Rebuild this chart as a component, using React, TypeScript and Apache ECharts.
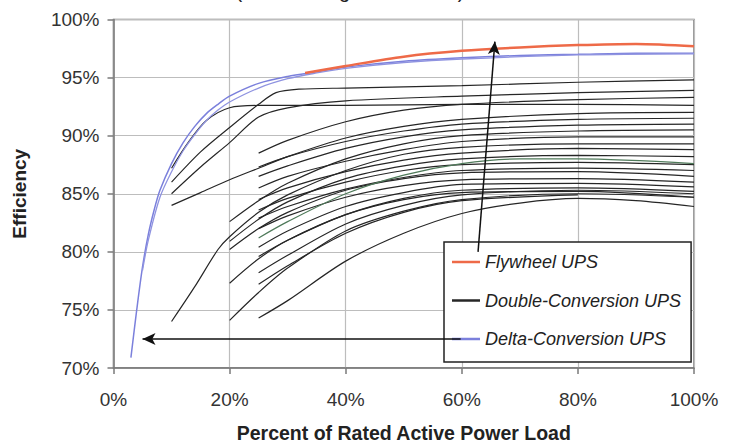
import React, { useEffect, useRef } from "react";
import * as echarts from "echarts";

// ---- Data (x = % of rated load, y = efficiency %) ----
const xTicks = [0, 20, 40, 60, 80, 100];
const yTicks = [70, 75, 80, 85, 90, 95, 100];

const flywheel: number[][] = [[33, 95.4], [40, 96.0], [50, 96.8], [60, 97.3], [70, 97.6], [80, 97.8], [90, 97.9], [100, 97.7]];

const deltaA: number[][] = [[3, 70.9], [4, 75.0], [5, 78.7], [6, 81.5], [7, 83.6], [8, 85.3], [10, 87.6], [12, 89.4], [14, 90.8], [16, 91.9], [18, 92.7], [20, 93.4], [25, 94.5], [30, 95.1], [35, 95.5], [40, 95.9], [50, 96.4], [60, 96.7], [70, 96.9], [80, 97.0], [90, 97.1], [100, 97.1]];
const deltaB: number[][] = [[5, 78.4], [6, 81.0], [8, 84.7], [10, 86.9], [12, 88.7], [14, 90.1], [16, 91.3], [18, 92.2], [20, 92.9], [25, 94.1], [30, 94.9], [35, 95.4], [40, 95.8], [50, 96.3], [60, 96.6], [80, 96.95], [100, 97.05]];

const dcA1: number[][] = [[10, 87.2], [13, 89.5], [16, 91.3], [20, 92.4], [25, 92.6], [40, 92.6], [60, 92.7], [80, 92.7], [100, 92.6]];
const dcA2: number[][] = [[10, 86.0], [15, 88.6], [20, 90.7], [25, 92.7], [28, 93.7], [32, 94.0], [40, 94.1], [60, 94.3], [80, 94.6], [100, 94.8]];
const dcA3: number[][] = [[10, 85.0], [15, 87.3], [20, 89.4], [25, 91.6], [30, 92.4], [40, 93.0], [60, 93.4], [80, 93.7], [100, 93.9]];
const dcA4: number[][] = [[10, 84.0], [15, 85.1], [20, 86.2], [25, 87.2], [30, 88.2], [40, 89.8], [50, 90.8], [60, 91.4], [80, 91.9], [100, 92.0]];
const dcA5: number[][] = [[10, 74.0], [14, 77.0], [18, 80.2], [20, 81.3], [25, 83.4], [30, 84.9], [40, 87.0], [50, 88.4], [60, 89.0], [80, 89.3], [100, 89.3]];
const dcB1: number[][] = [[20, 82.6], [25, 84.4], [30, 85.9], [40, 88.0], [50, 89.3], [60, 90.0], [80, 90.4], [100, 90.5]];
const dcB2: number[][] = [[20, 80.9], [25, 82.8], [30, 84.3], [40, 86.3], [50, 87.4], [60, 88.0], [80, 88.3], [100, 88.2]];
const dcB3: number[][] = [[20, 80.2], [25, 82.0], [30, 83.4], [40, 85.3], [50, 86.3], [60, 86.8], [80, 86.9], [100, 86.5]];
const dcB4: number[][] = [[20, 77.3], [25, 79.4], [30, 81.0], [40, 83.2], [50, 84.5], [60, 85.1], [80, 85.2], [100, 84.7]];
const dcB5: number[][] = [[20, 74.1], [25, 76.5], [30, 78.6], [40, 81.8], [50, 83.5], [60, 84.5], [80, 85.0], [100, 84.7]];
const dcC1: number[][] = [[25, 88.5], [30, 89.6], [40, 91.2], [50, 92.2], [60, 92.7], [80, 93.1], [100, 93.3]];
const dcC2: number[][] = [[25, 87.3], [30, 88.2], [40, 89.5], [50, 90.4], [60, 91.0], [80, 91.4], [100, 91.5]];
const dcC3: number[][] = [[25, 86.5], [30, 87.4], [40, 88.9], [50, 89.9], [60, 90.5], [80, 90.9], [100, 91.0]];
const dcC4: number[][] = [[25, 85.5], [30, 86.5], [40, 87.8], [50, 88.8], [60, 89.5], [80, 89.9], [100, 89.9]];
const dcC5: number[][] = [[25, 84.5], [30, 85.5], [40, 86.9], [50, 87.9], [60, 88.5], [80, 88.9], [100, 88.8]];
const dcC6: number[][] = [[25, 83.6], [30, 84.6], [40, 86.0], [50, 87.0], [60, 87.5], [80, 87.7], [100, 87.5]];
const dcC7: number[][] = [[25, 82.9], [30, 83.9], [40, 85.4], [50, 86.4], [60, 87.0], [80, 87.2], [100, 87.0]];
const dcC8: number[][] = [[25, 82.0], [30, 83.1], [40, 84.7], [50, 85.7], [60, 86.2], [80, 86.3], [100, 86.0]];
const dcC9: number[][] = [[25, 80.4], [30, 81.8], [40, 83.9], [50, 85.1], [60, 85.8], [80, 85.9], [100, 85.6]];
const dcC10: number[][] = [[25, 79.6], [30, 81.0], [40, 83.2], [50, 84.6], [60, 85.3], [80, 85.5], [100, 85.2]];
const dcC11: number[][] = [[25, 78.2], [30, 79.7], [40, 82.4], [50, 84.0], [60, 84.9], [80, 85.3], [100, 85.0]];
const dcC12: number[][] = [[25, 77.2], [30, 78.8], [40, 81.6], [50, 83.4], [60, 84.4], [80, 84.9]];
const dcC13: number[][] = [[25, 74.3], [30, 75.8], [40, 79.2], [50, 81.6], [60, 83.3], [70, 84.2], [80, 84.6], [90, 84.4], [100, 83.9]];
const dcGreen: number[][] = [[25, 81.2], [30, 82.6], [40, 85.0], [50, 86.6], [60, 87.6], [70, 88.0], [80, 88.0], [100, 87.6]];

const doubleConversion: number[][][] = [
  dcA1, dcA2, dcA3, dcA4, dcA5, dcB1, dcB2, dcB3, dcB4, dcB5,
  dcC1, dcC2, dcC3, dcC4, dcC5, dcC6, dcC7, dcC8, dcC9, dcC10, dcC11, dcC12, dcC13,
];

// Annotation arrows (data coordinates)
const arrowUp = [[62.8, 80.0], [65.7, 98.1]];
const arrowLeft = [[59.8, 72.5], [5.0, 72.5]];

const FLY = "Flywheel UPS";
const DC = "Double-Conversion UPS";
const DELTA = "Delta-Conversion UPS";

const RED = "#ee6a48";
const BLACK = "#262626";
const BLUE = "#7b80dc";

export default function App() {
  const ref = useRef<HTMLDivElement>(null);
  useEffect(() => {
    if (!ref.current) return;
    const chart = echarts.init(ref.current, null, { renderer: "svg" });
    const font = "'Liberation Sans', Arial, sans-serif";
    const lineSeries = (name: string, data: number[][], color: string, width: number, z: number) => ({
      name,
      type: "line",
      data,
      symbol: "none",
      smooth: 0.3,
      lineStyle: { color, width },
      itemStyle: { color },
      z,
      silent: true,
    });
    const option: any = {
      animation: false,
      backgroundColor: "#ffffff",
      textStyle: { fontFamily: font },
      grid: {
        left: 113.5, right: 35, top: 19.5, bottom: 76,
        outerBoundsMode: "none",
        show: true, borderColor: "#7a7a7a", borderWidth: 1.5,
      },
      graphic: [
        {
          type: "text", x: 350, y: -9,
          style: {
            text: "(tested using linear loads)",
            align: "center", verticalAlign: "middle",
            font: `20px ${font}`, fill: "#222",
          },
        },
      ],
      legend: {
        orient: "vertical",
        left: 444, top: 242,
        padding: [10, 10, 13, 8],
        itemGap: 18.5,
        itemWidth: 28, itemHeight: 2.5,
        icon: "rect",
        backgroundColor: "#ffffff",
        borderColor: "#222", borderWidth: 1.5, borderRadius: 0,
        selectedMode: false,
        data: [FLY, DC, DELTA],
        textStyle: { fontFamily: font, fontSize: 18, fontStyle: "italic", color: "#222", lineHeight: 20 },
      },
      xAxis: {
        type: "value", min: 0, max: 100, interval: 20,
        name: "Percent of Rated Active Power Load",
        nameLocation: "middle", nameGap: 55,
        nameTextStyle: { fontFamily: font, fontSize: 19.5, fontWeight: "bold", color: "#222", lineHeight: 19 },
        axisLine: { show: true, lineStyle: { color: "#7a7a7a", width: 1.5 } },
        axisTick: { show: true, inside: false, length: 6, lineStyle: { color: "#7a7a7a", width: 1.5 } },
        axisLabel: { margin: 22, fontSize: 19, color: "#333", fontFamily: font, formatter: "{value}%", customValues: xTicks },
        splitLine: { show: true, lineStyle: { color: "#bdbdbd", width: 1.2 } },
      },
      yAxis: {
        type: "value", min: 70, max: 100, interval: 5,
        name: "Efficiency",
        nameLocation: "middle", nameGap: 85, nameRotate: 90,
        nameTextStyle: { fontFamily: font, fontSize: 19, fontWeight: "bold", color: "#222" },
        axisLine: { show: true, lineStyle: { color: "#7a7a7a", width: 1.5 } },
        axisTick: { show: true, inside: false, length: 6, lineStyle: { color: "#7a7a7a", width: 1.5 } },
        axisLabel: { margin: 14, fontSize: 19, color: "#333", fontFamily: font, formatter: "{value}%", customValues: yTicks },
        splitLine: { show: true, lineStyle: { color: "#bdbdbd", width: 1.2 } },
      },
      series: [
        ...doubleConversion.map((d) => lineSeries(DC, d, BLACK, 1.2, 2)),
        { ...lineSeries(DC, dcGreen, "#4f7a5a", 1.2, 2), itemStyle: { color: BLACK } },
        lineSeries(DELTA, deltaA, BLUE, 1.5, 3),
        lineSeries(DELTA, deltaB, "#8f93e0", 1.3, 3),
        lineSeries(FLY, flywheel, RED, 2.5, 4),
        {
          name: "arrows", type: "line", data: [], symbol: "none", silent: true, z: 10,
          markLine: {
            silent: true, z: 10,
            symbol: ["none", "arrow"], symbolSize: [9, 13],
            label: { show: false },
            lineStyle: { color: "#111", width: 1.5, type: "solid" },
            emphasis: { disabled: true },
            data: [
              [{ coord: arrowUp[0] }, { coord: arrowUp[1] }],
              [{ coord: arrowLeft[0] }, { coord: arrowLeft[1] }],
            ],
          },
        },
      ],
    };
    chart.setOption(option);
    return () => chart.dispose();
  }, []);
  return <div ref={ref} style={{ position: "fixed", left: 0, top: 0, width: 729, height: 444 }} />;
}
